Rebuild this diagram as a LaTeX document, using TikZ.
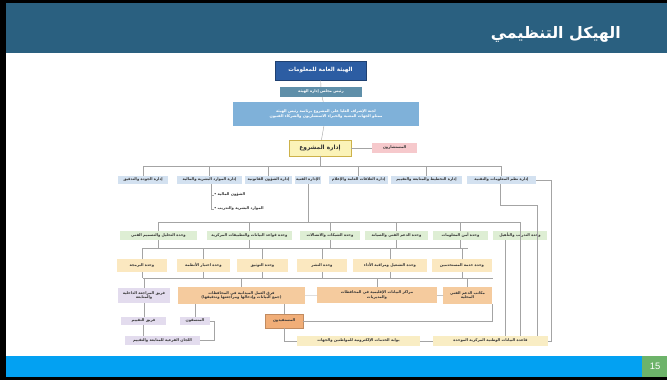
\documentclass[tikz,border=0pt]{standalone}
\usepackage{fontspec}
\setmainfont{Liberation Sans}
\newfontfamily\arabicfont[Script=Arabic]{DejaVu Sans}
\TeXXeTstate=1
\definecolor{titlebar}{HTML}{2A6080}
\definecolor{footbar}{HTML}{03A1F2}
\definecolor{pagebox}{HTML}{6DB36A}
\definecolor{lnc}{HTML}{A4A4A4}
\definecolor{txt}{HTML}{333333}
% box fill colours
\definecolor{topblue}{HTML}{2C5DA3}
\definecolor{greyblue}{HTML}{5F8FA9}
\definecolor{skyblue}{HTML}{7FB1D9}
\definecolor{pmyel}{HTML}{FBF3B8}
\definecolor{pmyeld}{HTML}{CDB24A}
\definecolor{pinkc}{HTML}{F6C9CC}
\definecolor{dept}{HTML}{D3E1F0}
\definecolor{unitg}{HTML}{DEEED4}
\definecolor{unity}{HTML}{FBE8C0}
\definecolor{orng}{HTML}{F5CB9E}
\definecolor{orngd}{HTML}{F1AE78}
\definecolor{lav}{HTML}{E3DCEE}
\definecolor{cream}{HTML}{F9EDC4}
\newcommand\arl[1]{\beginR #1\endR}
% \bx{name}{x1}{y1}{x2}{y2}{style}{text}
\newcommand\bx[7]{\node[#6, minimum width={(#4-#2)*0.03cm}, minimum height={(#5-#3)*0.03cm}] (#1) at ({(#2+#4)/2},{(#3+#5)/2}) {#7};}
\tikzset{
  box/.style={inner sep=0pt, outer sep=0pt, align=center, text=txt,
    font=\arabicfont\bfseries\fontsize{3.2}{3.9}\selectfont},
  boxw/.style={box, text=white},
  ln/.style={draw=lnc, line width=0.35pt},
}
\begin{document}
\begin{tikzpicture}[x=0.03cm,y=-0.03cm]
\useasboundingbox (0,0) rectangle (667,380);
% slide frame, header and footer
\fill[black] (0,0) rectangle (667,380);
\fill[white] (6,3) rectangle (667,377);
\fill[titlebar] (6,3) rectangle (667,53);
\fill[footbar] (6,356) rectangle (667,377);
\fill[pagebox] (642,356) rectangle (667,377);
\node[anchor=east, text=white, inner sep=0pt] (title) at (621,34)
  {\arabicfont\bfseries\fontsize{13.5}{16}\selectfont\arl{الهيكل التنظيمي}};
\node[text=white, inner sep=0pt, font=\fontsize{8}{9}\selectfont] (pg) at (655,366.5) {15};

% upper levels
\bx{top}{275}{61}{366}{80}{boxw, fill=topblue, draw=topblue!70!black, font=\arabicfont\bfseries\fontsize{4.8}{5.6}\selectfont}{\arl{الهيئة العامة للمعلومات}}
\bx{sec}{280}{87}{362}{97}{boxw, fill=greyblue}{\arl{رئيس مجلس إدارة الهيئة}}
\bx{com}{233}{102}{419}{126}{boxw, fill=skyblue}{\arl{لجنة الإشراف العليا على المشروع برئاسة رئيس الهيئة}\\\arl{ممثلو الجهات المعنية والخبراء الاستشاريون والشركاء الفنيون}}
\bx{pm}{289}{140}{351}{156}{box, fill=pmyel, draw=pmyeld, line width=0.6pt, font=\arabicfont\bfseries\fontsize{5}{5.8}\selectfont}{\arl{إدارة المشروع}}
\bx{cons}{372}{143}{417}{153}{box, fill=pinkc}{\arl{المستشارون}}

% departments
\bx{r1a}{118}{176}{168}{184}{box, fill=dept}{\arl{إدارة الجودة والتدقيق}}
\bx{r1b}{177}{176}{242}{184}{box, fill=dept}{\arl{إدارة الموارد البشرية والمالية}}
\bx{r1c}{245}{176}{292}{184}{box, fill=dept}{\arl{إدارة الشؤون القانونية}}
\bx{r1d}{295}{176}{321}{184}{box, fill=dept}{\arl{الإدارة الفنية}}
\bx{r1e}{329}{176}{388}{184}{box, fill=dept}{\arl{إدارة العلاقات العامة والإعلام}}
\bx{r1f}{391}{176}{462}{184}{box, fill=dept}{\arl{إدارة التخطيط والمتابعة والتقييم}}
\bx{r1g}{467}{176}{536}{184}{box, fill=dept}{\arl{إدارة نظم المعلومات والتقنية}}
\node[box, anchor=west] (s1) at (214,195) {• \arl{الشؤون المالية}};
\node[box, anchor=west] (s2) at (214,209) {• \arl{الموارد البشرية والتدريب}};

% technical units
\bx{r2a}{120}{231}{197}{240}{box, fill=unitg}{\arl{وحدة التحليل والتصميم الفني}}
\bx{r2b}{207}{231}{292}{240}{box, fill=unitg}{\arl{وحدة قواعد البيانات والتطبيقات المركزية}}
\bx{r2c}{300}{231}{360}{240}{box, fill=unitg}{\arl{وحدة الشبكات والاتصالات}}
\bx{r2d}{365}{231}{428}{240}{box, fill=unitg}{\arl{وحدة الدعم الفني والصيانة}}
\bx{r2e}{433}{231}{488}{240}{box, fill=unitg}{\arl{وحدة أمن المعلومات}}
\bx{r2f}{493}{231}{547}{240}{box, fill=unitg}{\arl{وحدة التدريب والتأهيل}}

% sub-units
\bx{r3a}{117}{259}{167}{272}{box, fill=unity}{\arl{وحدة البرمجة}}
\bx{r3b}{177}{259}{230}{272}{box, fill=unity}{\arl{وحدة اختبار الأنظمة}}
\bx{r3c}{237}{259}{288}{272}{box, fill=unity}{\arl{وحدة التوثيق}}
\bx{r3d}{297}{259}{347}{272}{box, fill=unity}{\arl{وحدة النشر}}
\bx{r3e}{353}{259}{427}{272}{box, fill=unity}{\arl{وحدة التشغيل ومراقبة الأداء}}
\bx{r3f}{432}{259}{492}{272}{box, fill=unity}{\arl{وحدة خدمة المستخدمين}}

% field level
\bx{r4a}{118}{288}{170}{303}{box, fill=lav}{\arl{فريق المراجعة الداخلية}\\\arl{والمتابعة}}
\bx{r4b}{178}{287}{305}{304}{box, fill=orng}{\arl{فرق العمل الميدانية في المحافظات}\\\arl{(جمع البيانات وإدخالها ومراجعتها وتدقيقها)}}
\bx{r4c}{317}{287}{437}{303}{box, fill=orng}{\arl{مراكز البيانات الإقليمية في المحافظات}\\\arl{والمديريات}}
\bx{r4d}{443}{287}{492}{304}{box, fill=orng}{\arl{مكاتب الدعم الفني}\\\arl{المحلية}}

\bx{r5a}{121}{317}{166}{325}{box, fill=lav}{\arl{فريق التقييم}}
\bx{r5b}{180}{317}{210}{325}{box, fill=lav}{\arl{المنسقون}}
\bx{r5c}{265}{314}{303}{328}{box, fill=orngd, draw=orngd!80!black, line width=0.5pt}{\arl{المستفيدون}}

\bx{r6a}{125}{336}{200}{345}{box, fill=lav}{\arl{اللجان الفرعية للمتابعة والتقييم}}
\bx{r6b}{297}{336}{420}{346}{box, fill=cream}{\arl{بوابة الخدمات الإلكترونية للمواطنين والجهات}}
\bx{r6c}{433}{336}{548}{346}{box, fill=cream}{\arl{قاعدة البيانات الوطنية المركزية الموحدة}}

% bus coordinates
\coordinate (b1L) at (143,166);
\coordinate (b1R) at (501,166);
\coordinate (b2L) at (158,222);
\coordinate (b2R) at (520,222);
\coordinate (b3L) at (142,248);
\coordinate (b3R) at (468,248);
\coordinate (b4L) at (143,278);
\coordinate (b4R) at (493,278);
\coordinate (sx) at (211,184);
\coordinate (rc1) at (551,180);
\coordinate (rb1) at (500,205);
\coordinate (rb2) at (537,205);
\coordinate (v505) at (505,0);
\coordinate (bk) at (214,0);
\coordinate (lp) at (492,322);

% connectors: upper levels
\draw[ln] (top) -- (sec);
\draw[ln] (sec) -- (com);
\draw[ln] (com) -- (pm);
\draw[ln] (pm) -- (cons);
\draw[ln] (pm.south) -- (pm.south |- b1L);
\draw[ln] (b1L) -- (b1R);
\foreach \n in {r1a,r1b,r1c,r1e,r1f,r1g}
  \draw[ln] (\n.north) -- (\n.north |- b1L);
\draw[ln] (sx) |- (s1.west);
\draw[ln] (sx) |- (s2.west);

% departments to units
\draw[ln] (r1d.south) -- (r1d.south |- b2L);
\draw[ln] (b2L) -- (b2R);
\foreach \n in {r2a,r2b,r2c,r2d,r2e}
  \draw[ln] (\n.north) -- (\n.north |- b2L);
\draw[ln] (b2R) -- (b2R |- r6c.north);
\draw[ln] (r1g.east) -- (rc1) |- (r6c.east);
\draw[ln] (r1g.south -| rb1) -- (rb1) -- (rb2) -- (rb2 |- r6c.north);
\draw[ln] (r2f.south -| v505) -- (v505 |- r6c.north);

% units to sub-units
\draw[ln] (b3L) -- (b3R);
\foreach \n in {r2a,r2b,r2c,r2d,r2e}
  \draw[ln] (\n.south) -- (\n.south |- b3L);
\foreach \n in {r3a,r3b,r3c,r3d,r3e,r3f}
  \draw[ln] (\n.north) -- (\n.north |- b3L);

% sub-units to field level
\draw[ln] (b4L) -- (b4R);
\foreach \n in {r3a,r3b,r3c,r3d,r3e,r3f}
  \draw[ln] (\n.south) -- (\n.south |- b4L);
\foreach \n in {r4a,r4b,r4c,r4d}
  \draw[ln] (\n.north) -- (\n.north |- b4L);
\draw[ln] (r4b) -- (r4c);
\draw[ln] (r4c) -- (r4d);

% lower levels
\draw[ln] (r4a.south) -- (r4a.south |- r5a.north);
\draw[ln] (r5a.south) -- (r5a.south |- r6a.north);
\draw[ln] (r4b.south -| r5b.north) -- (r5b.north);
\draw[ln] (r4b.south -| r5c.north) -- (r5c.north);
\draw[ln] (r5b.east) -| (bk |- r6a.east) -- (r6a.east);
\draw[ln] (r5c.east) -- (r5c.east -| lp) -- (r4d.south east);
\draw[ln] (r5c.south) |- (r6b.west);
\draw[ln] (r6b) -- (r6c);
\end{tikzpicture}
\end{document}
